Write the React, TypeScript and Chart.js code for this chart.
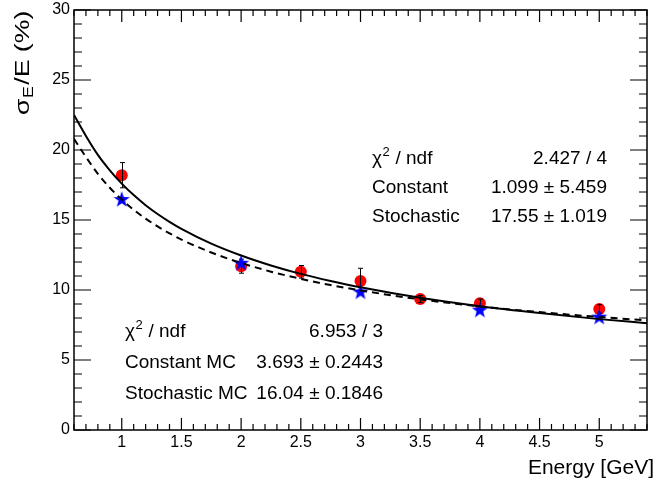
import React, { useEffect, useRef } from 'react';
import { Chart, registerables } from 'chart.js';

Chart.register(...registerables);

// ---- data ----
const energies = [1, 2, 2.5, 3, 3.5, 4, 5];
const dataRes = [18.2, 11.7, 11.3, 10.65, 9.35, 9.05, 8.65];
const dataErr = [0.9, 0.5, 0.45, 0.9, 0.25, 0.3, 0.3];

const mcEnergies = [1, 2, 3, 4, 5];
const mcRes = [16.5, 11.95, 9.9, 8.6, 8.1];

const fitX = [0.6, 0.7, 0.8, 0.9, 1, 1.1, 1.2, 1.3, 1.4, 1.5, 1.75, 2, 2.25, 2.5, 2.75, 3, 3.5, 4, 4.5, 5, 5.4];
const fitData = [22.5, 21.0, 19.65, 18.55, 17.6, 16.78, 16.06, 15.43, 14.87, 14.37, 13.31, 12.46, 11.75, 11.15, 10.64, 10.19, 9.44, 8.84, 8.35, 7.92, 7.63];
const fitMC = [20.8, 19.5, 18.3, 17.3, 16.46, 15.73, 15.1, 14.54, 14.05, 13.6, 12.68, 11.93, 11.31, 10.8, 10.35, 9.97, 9.33, 8.83, 8.42, 8.07, 7.83];

const xTickLabels = ['1', '1.5', '2', '2.5', '3', '3.5', '4', '4.5', '5'];
const xTickValues = [1, 1.5, 2, 2.5, 3, 3.5, 4, 4.5, 5];
const yTickLabels = ['0', '5', '10', '15', '20', '25', '30'];
const yTickValues = [0, 5, 10, 15, 20, 25, 30];

const statsData = [
  ['χ2 / ndf', '2.427 / 4'],
  ['Constant', '1.099 ± 5.459'],
  ['Stochastic', '17.55 ± 1.019'],
];
const statsMC = [
  ['χ2 / ndf', '6.953 / 3'],
  ['Constant MC', '3.693 ± 0.2443'],
  ['Stochastic MC', '16.04 ± 0.1846'],
];

const FONT = '"Liberation Sans", Arial, Helvetica, sans-serif';

function makeStar(): HTMLCanvasElement {
  const c = document.createElement('canvas');
  const s = 18;
  c.width = s;
  c.height = s;
  const g = c.getContext('2d')!;
  g.fillStyle = '#0000ff';
  g.beginPath();
  const cx = s / 2, cy = s / 2 + 0.8, R = 8.5, r = 3.4;
  for (let i = 0; i < 10; i++) {
    const a = -Math.PI / 2 + (i * Math.PI) / 5;
    const rad = i % 2 === 0 ? R : r;
    const px = cx + rad * Math.cos(a);
    const py = cy + rad * Math.sin(a);
    if (i === 0) g.moveTo(px, py);
    else g.lineTo(px, py);
  }
  g.closePath();
  g.fill();
  return c;
}

function drawChi(ctx: CanvasRenderingContext2D, label: string, x: number, y: number) {
  ctx.textAlign = 'left';
  if (label.startsWith('χ2')) {
    ctx.font = `19px ${FONT}`;
    ctx.fillText('χ', x, y);
    const w = ctx.measureText('χ').width;
    ctx.font = `13px ${FONT}`;
    ctx.fillText('2', x + w + 0.5, y - 8);
    const w2 = ctx.measureText('2').width;
    ctx.font = `19px ${FONT}`;
    ctx.fillText(label.slice(2), x + w + w2 + 1, y);
  } else {
    ctx.font = `19px ${FONT}`;
    ctx.fillText(label, x, y);
  }
}

const rootPlugin = {
  id: 'rootStyle',
  afterDatasetDraw(chart: any, args: any) {
    if (args.index !== 3) return;
    const { ctx, scales } = chart;
    const xs = scales.x, ys = scales.y;
    ctx.save();
    ctx.strokeStyle = '#000';
    ctx.lineWidth = 1;
    energies.forEach((e, i) => {
      const px = Math.round(xs.getPixelForValue(e)) + 0.5;
      const top = ys.getPixelForValue(dataRes[i] + dataErr[i]);
      const bot = ys.getPixelForValue(dataRes[i] - dataErr[i]);
      ctx.beginPath();
      ctx.moveTo(px, top);
      ctx.lineTo(px, bot);
      ctx.moveTo(px - 2.5, top);
      ctx.lineTo(px + 2.5, top);
      ctx.moveTo(px - 2.5, bot);
      ctx.lineTo(px + 2.5, bot);
      ctx.stroke();
    });
    ctx.restore();
  },
  afterDraw(chart: any) {
    const { ctx, chartArea: a, scales } = chart;
    const xs = scales.x, ys = scales.y;
    ctx.save();
    ctx.strokeStyle = '#000';
    ctx.fillStyle = '#000';
    ctx.lineWidth = 1.5;
    ctx.strokeRect(a.left, a.top, a.right - a.left, a.bottom - a.top);

    ctx.lineWidth = 1.2;
    ctx.beginPath();
    for (let k = 6; k <= 54; k++) {
      const v = k / 10;
      const px = xs.getPixelForValue(v);
      const major = k % 5 === 0;
      const len = major ? 12 : 6;
      ctx.moveTo(px, a.bottom);
      ctx.lineTo(px, a.bottom - len);
      ctx.moveTo(px, a.top);
      ctx.lineTo(px, a.top + len);
    }
    for (let v = 0; v <= 30; v++) {
      const py = ys.getPixelForValue(v);
      const major = v % 5 === 0;
      const len = major ? 17 : 8;
      ctx.moveTo(a.left, py);
      ctx.lineTo(a.left + len, py);
      ctx.moveTo(a.right, py);
      ctx.lineTo(a.right - len, py);
    }
    ctx.stroke();

    ctx.font = `16px ${FONT}`;
    ctx.textAlign = 'center';
    ctx.textBaseline = 'alphabetic';
    xTickValues.forEach((v, i) => {
      ctx.fillText(xTickLabels[i], xs.getPixelForValue(v), a.bottom + 17);
    });
    ctx.textAlign = 'right';
    ctx.textBaseline = 'middle';
    yTickValues.forEach((v, i) => {
      ctx.fillText(yTickLabels[i], a.left - 4, ys.getPixelForValue(v));
    });

    ctx.textBaseline = 'alphabetic';
    ctx.font = `21px ${FONT}`;
    ctx.textAlign = 'right';
    ctx.fillText('Energy [GeV]', 654, 474);

    // y title (rotated, slightly stretched along its length like the reference)
    ctx.save();
    ctx.translate(29, 115);
    ctx.rotate(-Math.PI / 2);
    ctx.scale(1.27, 1);
    ctx.textAlign = 'left';
    ctx.font = `21px ${FONT}`;
    ctx.fillText('σ', 0, 0);
    const ws = ctx.measureText('σ').width;
    ctx.font = `14px ${FONT}`;
    ctx.fillText('E', ws + 0.5, 4);
    const we = ctx.measureText('E').width;
    ctx.font = `21px ${FONT}`;
    ctx.fillText('/E (%)', ws + we + 1.5, 0);
    ctx.restore();

    ctx.textBaseline = 'alphabetic';
    const rowsA = [164, 193, 222];
    statsData.forEach((r, i) => {
      drawChi(ctx, r[0], 372, rowsA[i]);
      ctx.textAlign = 'right';
      ctx.font = `19px ${FONT}`;
      ctx.fillText(r[1], 607, rowsA[i]);
    });
    const rowsB = [337, 368, 399];
    statsMC.forEach((r, i) => {
      drawChi(ctx, r[0], 125, rowsB[i]);
      ctx.textAlign = 'right';
      ctx.font = `19px ${FONT}`;
      ctx.fillText(r[1], 383, rowsB[i]);
    });
    ctx.restore();
  },
};

export default function App() {
  const ref = useRef<HTMLCanvasElement>(null);
  useEffect(() => {
    if (!ref.current) return;
    const star = makeStar();
    const chart = new Chart(ref.current, {
      type: 'scatter',
      data: {
        datasets: [
          {
            label: 'fit',
            data: fitX.map((x, i) => ({ x, y: fitData[i] })),
            showLine: true,
            borderColor: '#000',
            borderWidth: 2,
            pointRadius: 0,
            cubicInterpolationMode: 'monotone',
            order: 0,
          },
          {
            label: 'fit MC',
            data: fitX.map((x, i) => ({ x, y: fitMC[i] })),
            showLine: true,
            borderColor: '#000',
            borderWidth: 2,
            borderDash: [7, 5],
            pointRadius: 0,
            cubicInterpolationMode: 'monotone',
            order: 0,
          },
          {
            label: 'MC',
            data: mcEnergies.map((x, i) => ({ x, y: mcRes[i] })),
            pointStyle: star as any,
            pointRadius: 9,
            order: 1,
          },
          {
            label: 'Data',
            data: energies.map((x, i) => ({ x, y: dataRes[i] })),
            pointStyle: 'circle',
            pointRadius: 6,
            backgroundColor: '#ff0000',
            borderColor: '#ff0000',
            borderWidth: 0,
            order: 2,
          },
        ],
      },
      options: {
        responsive: false,
        animation: false,
        events: [],
        layout: { padding: { left: 74, right: 1, top: 10, bottom: 54 } },
        plugins: { legend: { display: false }, tooltip: { enabled: false } },
        scales: {
          x: { type: 'linear', min: 0.6, max: 5.4, display: false },
          y: { type: 'linear', min: 0, max: 30, display: false },
        },
      },
      plugins: [rootPlugin],
    });
    return () => chart.destroy();
  }, []);
  return (
    <div style={{ position: 'absolute', left: 0, top: 0, width: 657, height: 484, background: '#fff' }}>
      <canvas ref={ref} width={657} height={484} style={{ display: 'block' }} />
    </div>
  );
}
